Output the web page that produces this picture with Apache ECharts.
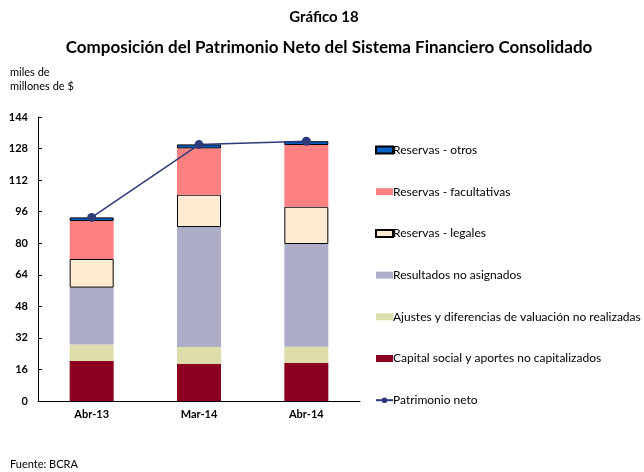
<!DOCTYPE html>
<html>
<head>
<meta charset="utf-8">
<script src="https://cdn.jsdelivr.net/npm/echarts@6/dist/echarts.min.js"></script>
<style>
  body { margin: 0; background: #fff; }
</style>
</head>
<body>
<div id="chart" style="width: 644px; height: 472px;"></div>
<script>
// datos (miles de millones de $)
const categories = ['Abr-13', 'Mar-14', 'Abr-14'];
const capital = [20.3, 18.9, 19.3];
const ajustes = [8.4, 8.5, 8.2];
const resultados = [28.8, 60.8, 52.1];
const legales = [14.5, 16.4, 18.9];
const facultativas = [19.3, 23.5, 31.3];
const otros = [1.8, 2.0, 1.9];
const patrimonio = [93.1, 130.0, 131.7];
const yTicks = [0, 16, 32, 48, 64, 80, 96, 112, 128, 144];

const font = 'Lato';

function barSerie(name, data, color, border) {
  return {
    name: name,
    type: 'bar',
    stack: 'pn',
    barWidth: 44,
    data: data,
    itemStyle: {
      color: color,
      borderColor: border ? '#000' : color,
      borderWidth: border ? 1 : 0
    }
  };
}

let myChart = echarts.init(document.getElementById('chart'));
myChart.setOption({
  animation: false,
  textStyle: { fontFamily: font, color: '#000' },
  title: [
    {
      text: 'Gráfico 18',
      left: 324, top: 10, textAlign: 'center', padding: 0,
      textStyle: { fontFamily: font, fontSize: 15, fontWeight: 'bold', color: '#000' }
    },
    {
      text: 'Composición del Patrimonio Neto del Sistema Financiero Consolidado',
      left: 329, top: 39, textAlign: 'center', padding: 0,
      textStyle: { fontFamily: font, fontSize: 17, fontWeight: 'bold', color: '#000' }
    },
    {
      text: 'miles de\nmillones de $',
      left: 10, top: 65, padding: 0,
      textStyle: { fontFamily: font, fontSize: 11, fontWeight: 'normal', color: '#000', lineHeight: 14 }
    },
    {
      text: 'Fuente: BCRA',
      left: 10, top: 459, padding: 0,
      textStyle: { fontFamily: font, fontSize: 11, fontWeight: 'normal', color: '#000' }
    }
  ],
  grid: { left: 38, right: 284, top: 117, bottom: 71 },
  legend: {
    orient: 'vertical',
    left: 375, top: 143, padding: 0,
    itemWidth: 17, itemHeight: 7,
    itemGap: 27.7,
    data: [
      { name: 'Reservas - otros', icon: 'rect' },
      { name: 'Reservas - facultativas', icon: 'rect' },
      { name: 'Reservas - legales', icon: 'rect' },
      { name: 'Resultados no asignados', icon: 'rect' },
      { name: 'Ajustes y diferencias de valuación no realizadas', icon: 'rect' },
      { name: 'Capital social y aportes no capitalizados', icon: 'rect' },
      'Patrimonio neto'
    ],
    textStyle: { fontFamily: font, fontSize: 12, color: '#000', lineHeight: 14, padding: [0, 0, 0, -5] }
  },
  xAxis: {
    type: 'category',
    data: categories,
    axisLine: { lineStyle: { color: '#000', width: 1 } },
    axisTick: { inside: true, length: 4, lineStyle: { color: '#000' } },
    axisLabel: { fontFamily: font, fontWeight: 'bold', fontSize: 11, color: '#000', margin: 8 }
  },
  yAxis: {
    type: 'value',
    min: yTicks[0],
    max: yTicks[yTicks.length - 1],
    interval: 16,
    splitLine: { show: false },
    axisLine: { show: true, lineStyle: { color: '#000', width: 1 } },
    axisTick: { show: true, inside: true, length: 4, lineStyle: { color: '#000' } },
    axisLabel: { fontFamily: font, fontWeight: 'bold', fontSize: 11, color: '#000', margin: 10 }
  },
  series: [
    barSerie('Capital social y aportes no capitalizados', capital, '#8C0020', false),
    barSerie('Ajustes y diferencias de valuación no realizadas', ajustes, '#DEDEAA', false),
    barSerie('Resultados no asignados', resultados, '#ADADCA', false),
    barSerie('Reservas - legales', legales, '#FFEBD1', true),
    barSerie('Reservas - facultativas', facultativas, '#FF8080', false),
    barSerie('Reservas - otros', otros, '#0563C8', true),
    {
      name: 'Patrimonio neto',
      type: 'line',
      data: patrimonio,
      z: 5,
      symbol: 'circle',
      symbolSize: 9,
      lineStyle: { color: '#2E3A7A', width: 1.5 },
      itemStyle: { color: '#2E3A7A' }
    }
  ]
});
</script>
</body>
</html>
